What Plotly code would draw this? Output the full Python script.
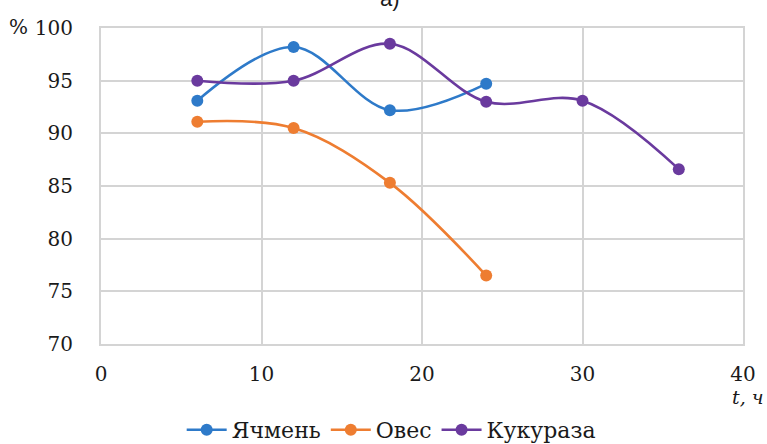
import plotly.graph_objects as go

hours_barley = [6, 12, 18, 24]
barley = [93.1, 98.2, 92.2, 94.7]

hours_oats = [6, 12, 18, 24]
oats = [91.1, 90.5, 85.3, 76.5]

hours_corn = [6, 12, 18, 24, 30, 36]
corn = [95.0, 95.0, 98.5, 93.0, 93.1, 86.6]

names = ["Ячмень", "Овес", "Кукураза"]
colors = ["#2E7AC9", "#EE7D31", "#6A3A9E"]

x_ticks = [0, 10, 20, 30, 40]
y_ticks = [70, 75, 80, 85, 90, 95, 100]

fig = go.Figure()
for xs, ys, name, col in [(hours_barley, barley, names[0], colors[0]),
                          (hours_oats, oats, names[1], colors[1]),
                          (hours_corn, corn, names[2], colors[2])]:
    fig.add_trace(go.Scatter(
        x=xs, y=ys, name=name, mode="lines+markers",
        line=dict(color=col, width=2.6, shape="spline", smoothing=1.0),
        marker=dict(color=col, size=12),
    ))

serif = "DejaVu Serif"
grid = "#D4D4D4"

fig.update_layout(
    template="none",
    width=767, height=444,
    margin=dict(l=101, r=24, t=28, b=100, autoexpand=False),
    paper_bgcolor="white", plot_bgcolor="white",
    font=dict(family=serif, size=20, color="#1a1a1a"),
    showlegend=True,
    legend=dict(orientation="h", x=0.452, xanchor="center", y=-0.272, yanchor="middle",
                yref="paper", font=dict(family=serif, size=22), itemwidth=40,
                tracegroupgap=0, bgcolor="rgba(0,0,0,0)"),
    xaxis=dict(range=[0, 40], tickvals=x_ticks, showgrid=True, gridcolor=grid, gridwidth=1.5,
               showline=True, linecolor=grid, linewidth=2, mirror=True, zeroline=False,
               ticks="", ticklabelstandoff=11, tickfont=dict(family=serif, size=20)),
    yaxis=dict(range=[70, 100], tickvals=y_ticks, showgrid=True, gridcolor=grid, gridwidth=1.5,
               showline=True, linecolor=grid, linewidth=2, mirror=True, zeroline=False,
               ticks="", ticklabelstandoff=22, tickfont=dict(family=serif, size=20)),
    annotations=[
        dict(text="%", xref="paper", yref="paper", x=-0.128, y=1.003, xanchor="center", yanchor="middle",
             showarrow=False, font=dict(family=serif, size=20)),
        dict(text="<i>t, ч</i>", xref="paper", yref="paper", x=1.008, y=-0.168, xanchor="center",
             yanchor="middle", showarrow=False, font=dict(family=serif, size=19)),
        dict(text="а)", xref="paper", yref="paper", x=0.45, y=1.047, xanchor="center",
             yanchor="bottom", showarrow=False, font=dict(family="Liberation Sans", size=22)),
    ],
)

fig.write_html("out.html", config={"displayModeBar": False},
               post_script="document.body.style.margin='0';")
